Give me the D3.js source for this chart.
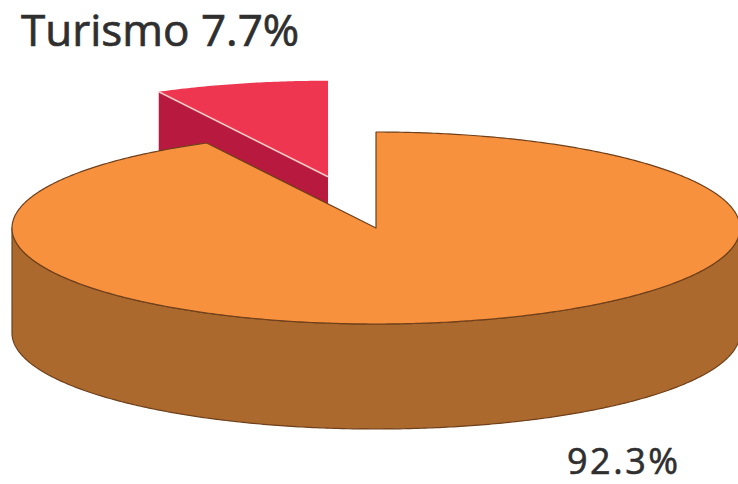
<!DOCTYPE html>
<html>
<head>
<meta charset="utf-8">
<script src="https://cdn.jsdelivr.net/npm/d3@7"></script>
<style>
  html, body { margin: 0; padding: 0; background: #fff; }
  svg { display: block; }
</style>
</head>
<body>
<script>
// data
const categories = ["Turismo", "Otros"];
const values = [7.7, 92.3];
const labels = ["Turismo 7.7%", "92.3%"];
const topColors = ["#ef3651", "#f8913d"];
const sideColors = ["#b8193f", "#ab692d"];

const width = 738, height = 484;
const cx = 376, cy = 228, rx = 364, ry = 96, depth = 105;
const explode = 0.55; // how far the Turismo slice is pulled out (unit radius)

// unit circle -> screen ellipse
const xScale = d3.scaleLinear().domain([-1, 1]).range([cx - rx, cx + rx]);
const yScale = d3.scaleLinear().domain([-1, 1]).range([cy - ry, cy + ry]);

const svg = d3.select("body").append("svg")
  .attr("width", width)
  .attr("height", height);

const turFrac = values[0] / d3.sum(values);
const pie = d3.pie().sort(null).value(d => d)
  .startAngle(-turFrac * 2 * Math.PI)
  .endAngle((1 - turFrac) * 2 * Math.PI);
const slices = pie(values);

function pt(a, off, dz) {
  return [xScale(Math.sin(a) + off[0]), yScale(-Math.cos(a) + off[1]) + (dz || 0)];
}
function arcPts(a0, a1, off, dz) {
  const n = Math.max(2, Math.ceil(Math.abs(a1 - a0) / 0.01));
  return d3.range(n + 1).map(i => pt(a0 + (a1 - a0) * i / n, off, dz));
}
function centre(off, dz) {
  return [xScale(off[0]), yScale(off[1]) + (dz || 0)];
}
const line = d3.line();
const poly = p => line(p) + "Z";

const stroke = "#6f401b";

slices.forEach((s, i) => {
  const mid = (s.startAngle + s.endAngle) / 2;
  const off = i === 0 ? [Math.sin(mid) * explode, -Math.cos(mid) * explode] : [0, 0];
  const g = svg.append("g").attr("class", "slice-" + categories[i]);

  // radial face at startAngle (faces the viewer for the pulled-out slice)
  if (i === 0) {
    const c = centre(off), r = pt(s.startAngle, off);
    g.append("path")
      .attr("d", poly([c, r, [r[0], r[1] + depth], [c[0], c[1] + depth]]))
      .attr("fill", sideColors[i]);
  }

  // outer side wall, only the front half (pi/2 .. 3pi/2) shows
  const a0 = Math.max(s.startAngle, Math.PI / 2), a1 = Math.min(s.endAngle, 3 * Math.PI / 2);
  if (a1 > a0) {
    const topEdge = arcPts(a0, a1, off, 0);
    const botEdge = arcPts(a1, a0, off, depth);
    g.append("path")
      .attr("d", poly(topEdge.concat(botEdge)))
      .attr("fill", sideColors[i])
      .attr("stroke", stroke)
      .attr("stroke-width", 1.2)
      .attr("stroke-linejoin", "round");
  }

  // top face
  g.append("path")
    .attr("d", poly([centre(off)].concat(arcPts(s.startAngle, s.endAngle, off, 0))))
    .attr("fill", topColors[i])
    .attr("stroke", i === 0 ? "none" : stroke)
    .attr("stroke-width", 1.2)
    .attr("stroke-linejoin", "round");

  // light rim along the cut edge of the red slice
  if (i === 0) {
    g.append("path")
      .attr("d", line([centre(off), pt(s.startAngle, off)]))
      .attr("stroke", "#f2c9c4")
      .attr("stroke-width", 1.5);
  }
});

// labels; thin stroke gives the medium weight of the original
svg.append("text")
  .attr("x", 21)
  .attr("y", 46)
  .attr("font-family", "'Open Sans', sans-serif")
  .attr("font-size", 44)
  .attr("fill", "#2f2f2f")
  .attr("stroke", "#2f2f2f")
  .attr("stroke-width", 0.7)
  .text(labels[0]);

svg.append("text")
  .attr("x", 567)
  .attr("y", 474)
  .attr("font-family", "'Open Sans', sans-serif")
  .attr("font-size", 36)
  .attr("letter-spacing", 2.5)
  .attr("fill", "#2f2f2f")
  .attr("stroke", "#2f2f2f")
  .attr("stroke-width", 0.6)
  .text(labels[1]);
</script>
</body>
</html>
